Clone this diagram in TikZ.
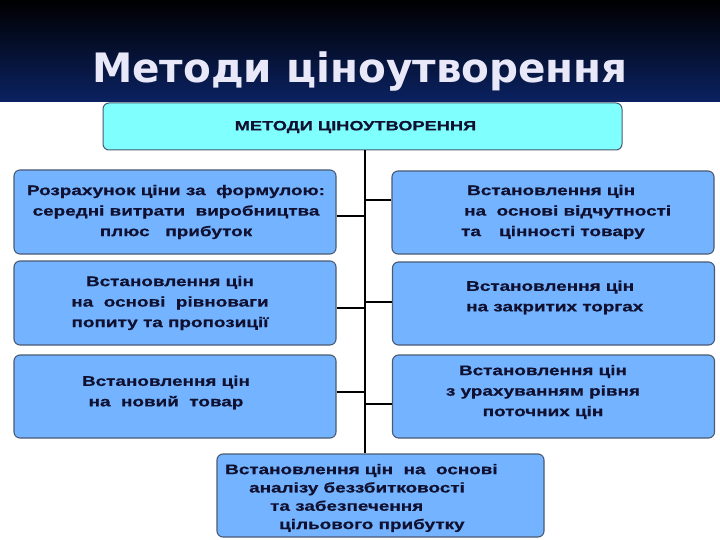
\documentclass[tikz,border=0pt]{standalone}
\usepackage{fontspec}
\newfontfamily\bxfont[FakeStretch=1.35,FakeBold=0.6]{Liberation Sans}
\newfontfamily\ttlfont{DejaVu Sans}
\definecolor{boxblue}{HTML}{73B3FF}
\definecolor{topcyan}{HTML}{80FFFF}
\definecolor{boxedge}{HTML}{4A5A72}
\definecolor{txtnavy}{HTML}{101030}
\definecolor{bannerbot}{HTML}{0B2262}
\definecolor{titlecol}{HTML}{E8E8F8}
\begin{document}
\begin{tikzpicture}[x=1pt,y=-1pt,
  box/.style={draw=boxedge, line width=1.1pt, fill=boxblue, rounded corners=6pt, inner sep=0pt, minimum width=322pt, minimum height=83pt},
  topbox/.style={draw=boxedge, line width=1pt, fill=topcyan, rounded corners=6pt, inner sep=0pt, minimum width=519pt, minimum height=47pt},
  btxt/.style={text=txtnavy, inner sep=0pt, font=\bxfont\bfseries\fontsize{14}{20.5}\selectfont},
  conn/.style={draw=black, line width=1.1pt}
]
\useasboundingbox (0,0) rectangle (720,540);
\shade[top color=black, bottom color=bannerbot] (0,0) rectangle (720,102);
\node[anchor=base, text=titlecol, inner sep=0pt, font=\ttlfont\bfseries\fontsize{40.5}{40.5}\selectfont] (title) at (360,83) {Методи ціноутворення};

\node[topbox] (top) at (362.5,126.5) {};
\node[btxt, font=\bxfont\bfseries\fontsize{13.5}{15}\selectfont] (toptxt) at (355.5,127) {МЕТОДИ ЦІНОУТВОРЕННЯ};

\node[box, minimum height=84pt] (l1) at (175,212) {};
\node[box, minimum height=84pt] (l2) at (175,303) {};
\node[box] (l3) at (175,396.5) {};
\node[box] (r1) at (553,212.5) {};
\node[box] (r2) at (553.5,303.5) {};
\node[box] (r3) at (553.5,396.5) {};
\node[box, minimum width=327pt] (bot) at (380.5,495.5) {};

\coordinate (sp) at (365,0);
\draw[conn] (sp |- top.south) -- (sp |- bot.north);
\draw[conn] (l1.east |- 0,216) -- (sp |- 0,216);
\draw[conn] (r1.west |- 0,200) -- (sp |- 0,200);
\draw[conn] (l2.east |- 0,308) -- (sp |- 0,308);
\draw[conn] (r2.west |- 0,302) -- (sp |- 0,302);
\draw[conn] (l3.east |- 0,392) -- (sp |- 0,392);
\draw[conn] (r3.west |- 0,404) -- (sp |- 0,404);

\node[btxt, align=center] (l1t) at (176,212) {Розрахунок ціни за~ формулою:\\середні витрати~ виробництва\\плюс~~ прибуток};
\node[btxt, align=center] (l2t) at (170,303) {Встановлення цін\\на~ основі~ рівноваги\\попиту та пропозиції};
\node[btxt, align=center] (l3t) at (166,392.5) {Встановлення цін\\на~ новий~ товар};
\node[btxt, align=left, anchor=west] (r1t) at (463,212) {\hspace*{4pt}Встановлення цін\\\hspace*{1pt}на~ основі відчутності\\\hspace*{-2pt}та\hspace{1.3em}цінності товару};
\node[btxt, align=left, anchor=west] (r2t) at (466,297.5) {Встановлення цін\\на закритих торгах};
\node[btxt, align=center] (r3t) at (543,392) {Встановлення цін\\з урахуванням рівня\\поточних цін};
\node[btxt, align=left, anchor=west, font=\bxfont\bfseries\fontsize{14}{18.3}\selectfont] (bott) at (225,498) {Встановлення цін~ на~ основі\\\hspace*{24pt}аналізу беззбитковості\\\hspace*{45pt}та забезпечення\\\hspace*{54pt}цільового прибутку};
\end{tikzpicture}
\end{document}
